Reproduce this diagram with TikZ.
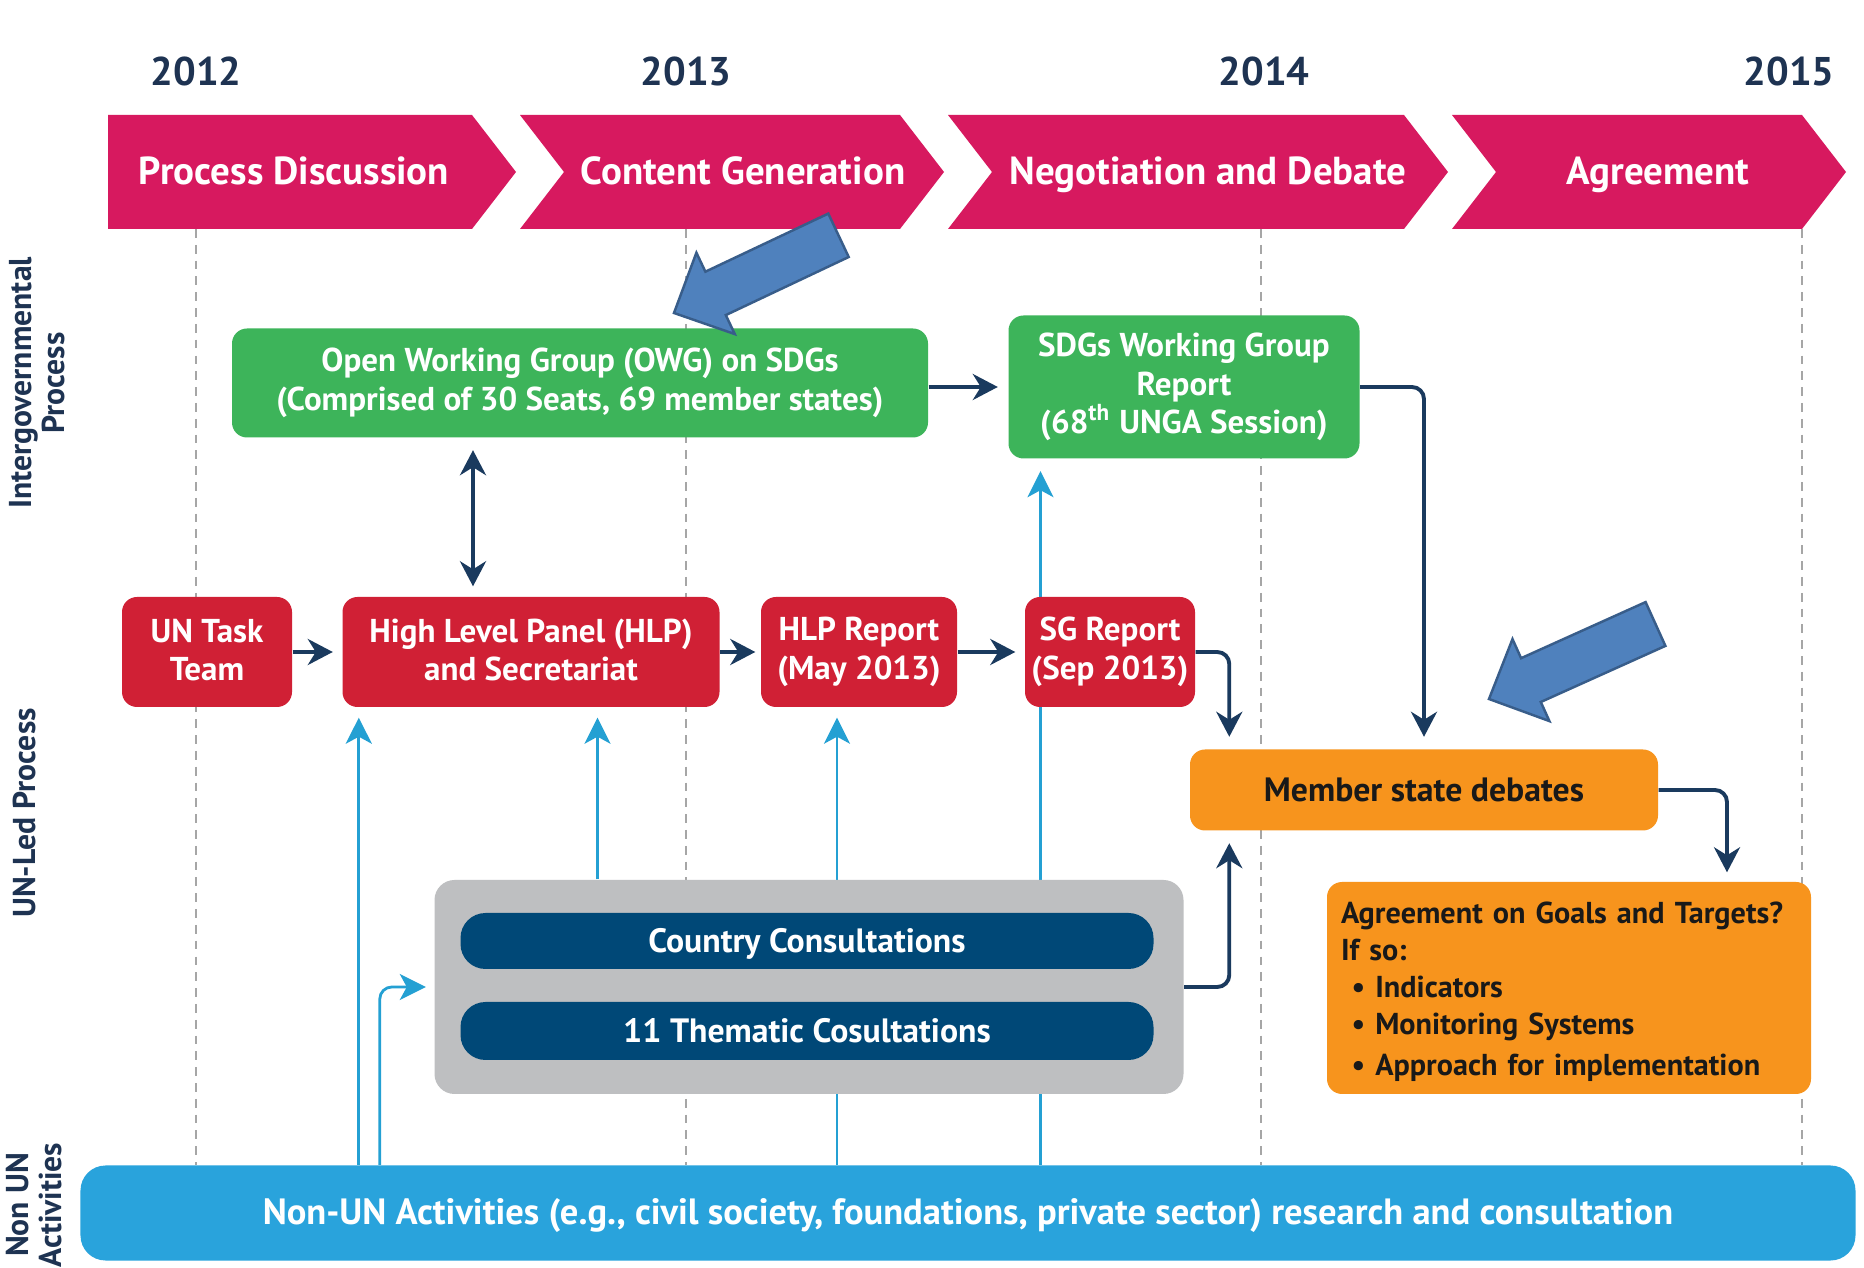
\documentclass[tikz,border=0pt]{standalone}
\usepackage{fontspec}
\setmainfont{PT Sans}
\usetikzlibrary{arrows.meta,backgrounds}

\definecolor{chevmag}{HTML}{D7195F}
\definecolor{sdggreen}{HTML}{3DB45A}
\definecolor{unred}{HTML}{D02035}
\definecolor{debateorange}{HTML}{F7941D}
\definecolor{consgray}{HTML}{BEBFC1}
\definecolor{consblue}{HTML}{004877}
\definecolor{barblue}{HTML}{29A3DC}
\definecolor{flownavy}{HTML}{1A3A5E}
\definecolor{inputblue}{HTML}{24A0D3}
\definecolor{yearnavy}{HTML}{1E3352}
\definecolor{calloutfill}{HTML}{4F81BD}
\definecolor{calloutline}{HTML}{385D8A}

\newcommand{\boxstrut}{\rule[-2.2pt]{0pt}{11pt}}
\newcommand{\lowstrut}{\rule[-1.2pt]{0pt}{11pt}}

\begin{document}
\begin{tikzpicture}[y=-1cm,
  >={Stealth[length=0.25cm,width=0.26cm,inset=0.08cm]},
  boxbase/.style={rounded corners=0.15cm, inner sep=0pt, align=center, text=white,
    font=\fontsize{9.4}{11}\selectfont\bfseries},
  box/.style={boxbase, execute at begin node=\boxstrut, execute at end node=\boxstrut},
  twoline/.style={boxbase, execute at begin node=\lowstrut, execute at end node=\lowstrut},
  greenbox/.style={twoline, fill=sdggreen},
  redbox/.style={twoline, fill=unred, minimum height=1.10cm},
  orangebox/.style={box, fill=debateorange, text=black!90},
  consbox/.style={box, fill=consblue, rounded corners=0.25cm, minimum width=6.93cm,
    font=\fontsize{9.6}{11}\selectfont\bfseries},
  chevtext/.style={text=white, font=\fontsize{11.1}{13}\selectfont\bfseries,
    text height=0.7em, text depth=0em},
  year/.style={text=yearnavy, font=\fontsize{11.4}{14}\selectfont\bfseries},
  lanelabel/.style={rotate=90, align=center, text=yearnavy,
    font=\fontsize{9}{9.5}\selectfont\bfseries},
  flow/.style={flownavy, line width=1.1pt, ->},
  input/.style={inputblue, line width=0.8pt, -{Stealth[length=0.26cm,width=0.26cm,inset=0.07cm]}},
  yearline/.style={gray!70, line width=0.5pt, dash pattern=on 2.5pt off 2pt},
  callout/.style={fill=calloutfill, draw=calloutline, line width=0.7pt, line join=miter}
]
\useasboundingbox (0,0) rectangle (18.64,12.68);

% years and phases
\node[year] (y2012) at (1.96,0.71) {2012};
\node[year] (y2013) at (6.86,0.71) {2013};
\node[year] (y2014) at (12.64,0.71) {2014};
\node[year] (y2015) at (17.89,0.71) {2015};

\fill[chevmag] (1.08,1.15) -- (4.72,1.15) -- (5.16,1.72) -- (4.72,2.29) -- (1.08,2.29) -- cycle;
\foreach \l/\r in {5.20/9.44, 9.48/14.48, 14.52/18.46}
  \fill[chevmag] (\l,1.15) -- ({\r-0.44},1.15) -- (\r,1.72) -- ({\r-0.44},2.29)
    -- (\l,2.29) -- ({\l+0.44},1.72) -- cycle;

\node[chevtext] (phase1) at (2.94,1.72) {Process Discussion};
\node[chevtext] (phase2) at (7.43,1.72) {Content Generation};
\node[chevtext] (phase3) at (12.08,1.72) {Negotiation and Debate};
\node[chevtext] (phase4) at (16.58,1.72) {Agreement};

% lanes
\node[lanelabel] (lane1) at (0.37,3.83) {Intergovernmental\\Process};
\node[lanelabel] (lane2) at (0.24,8.13) {UN-Led Process};
\node[lanelabel] (lane3) at (0.34,12.05) {Non UN\\Activities};

% boxes
\node[greenbox, minimum width=6.96cm, minimum height=1.09cm] (owg) at (5.80,3.83)
  {Open Working Group (OWG) on SDGs\\(Comprised of 30 Seats, 69 member states)};
\node[greenbox, minimum width=3.51cm, minimum height=1.43cm] (sdgrep) at (11.84,3.87)
  {SDGs Working Group\\Report\\(68\textsuperscript{th} UNGA Session)};

\node[redbox, minimum width=1.70cm] (untask) at (2.07,6.52) {UN Task\\Team};
\node[redbox, minimum width=3.77cm] (hlp) at (5.31,6.52) {High Level Panel (HLP)\\and Secretariat};
\node[redbox, minimum width=1.96cm] (hlprep) at (8.59,6.52) {HLP Report\\(May 2013)};
\node[redbox, minimum width=1.70cm] (sgrep) at (11.10,6.52) {SG Report\\(Sep 2013)};

\node[orangebox, minimum width=4.68cm, minimum height=0.81cm,
  font=\fontsize{9.6}{11}\selectfont\bfseries] (member) at (14.24,7.90)
  {Member state debates};
\node[orangebox, minimum height=2.12cm, inner xsep=0.14cm, text width=4.56cm, align=left,
  font=\fontsize{8.6}{10.5}\selectfont\bfseries] (agree) at (15.69,9.88)
  {Agreement on Goals and Targets?\\If so:\\
   \hspace*{3pt}\textbullet\ Indicators\\
   \hspace*{3pt}\textbullet\ Monitoring Systems\\
   \hspace*{3pt}\textbullet\ Approach for implementation};

\node[fill=consgray, rounded corners=0.2cm, minimum width=7.49cm, minimum height=2.14cm] (consult) at (8.09,9.87) {};
\node[consbox, minimum height=0.56cm] (country) at (8.07,9.41) {Country Consultations};
\node[consbox, minimum height=0.58cm] (thematic) at (8.07,10.31) {11 Thematic Cosultations};

\node[box, fill=barblue, rounded corners=0.25cm, minimum width=17.75cm, minimum height=0.95cm,
  font=\fontsize{10.4}{11}\selectfont\bfseries] (nonun) at (9.68,12.13)
  {Non-UN Activities (e.g., civil society, foundations, private sector) research and consultation};

% flows
\draw[flow, shorten >=0.09cm] (untask) -- (hlp);
\draw[flow, shorten >=0.05cm] (hlp) -- (hlprep);
\draw[flow, shorten >=0.09cm] (hlprep) -- (sgrep);
\draw[flow, shorten >=0.10cm] (owg.east |- sdgrep.west) -- (sdgrep.west);
\draw[flow, <->, shorten <=0.12cm, shorten >=0.10cm] ([xshift=-0.58cm]hlp.north |- owg.south) -- ([xshift=-0.58cm]hlp.north);
\draw[flow, rounded corners=0.12cm, shorten >=0.12cm] (sgrep.east) -| ([xshift=0.40cm]member.north west);
\draw[flow, rounded corners=0.12cm, shorten >=0.12cm] (sdgrep.east) -| (member.north);
\draw[flow, rounded corners=0.12cm, shorten >=0.09cm] (member.east) -| ([xshift=1.58cm]agree.north);
\draw[flow, rounded corners=0.12cm, shorten >=0.12cm] (consult.east) -| ([xshift=0.40cm]member.south west);

\begin{scope}[on background layer]
  \fill[white] (0,0) rectangle (18.64,12.68);
  \foreach \x in {1.96,6.86,12.61,18.02}
    \draw[yearline] (\x,2.29) -- (\x,11.65);
  \draw[input, shorten >=0.10cm] ([xshift=0.17cm]hlp.south west |- nonun.north) -- ([xshift=0.17cm]hlp.south west);
  \draw[input, shorten >=0.10cm] ([xshift=0.665cm]hlp.south |- consult.north) -- ([xshift=0.665cm]hlp.south);
  \draw[input, shorten >=0.10cm] ([xshift=-0.22cm]hlprep.south |- nonun.north) -- ([xshift=-0.22cm]hlprep.south);
  \draw[input, shorten >=0.12cm] ([xshift=-1.435cm]sdgrep.south |- nonun.north) -- ([xshift=-1.435cm]sdgrep.south);
  \draw[input, rounded corners=0.12cm, shorten >=0.08cm] ([xshift=-0.54cm]consult.west |- nonun.north) |- (consult.west);
\end{scope}

% callouts
\filldraw[callout] (6.74,3.13) -- (7.348,3.341) -- (7.258,3.151) -- (8.487,2.570)
  -- (8.283,2.136) -- (7.054,2.717) -- (6.964,2.527) -- cycle;
\filldraw[callout] (14.89,6.99) -- (15.494,7.211) -- (15.408,7.020) -- (16.654,6.459)
  -- (16.456,6.021) -- (15.211,6.582) -- (15.125,6.391) -- cycle;
\end{tikzpicture}
\end{document}
